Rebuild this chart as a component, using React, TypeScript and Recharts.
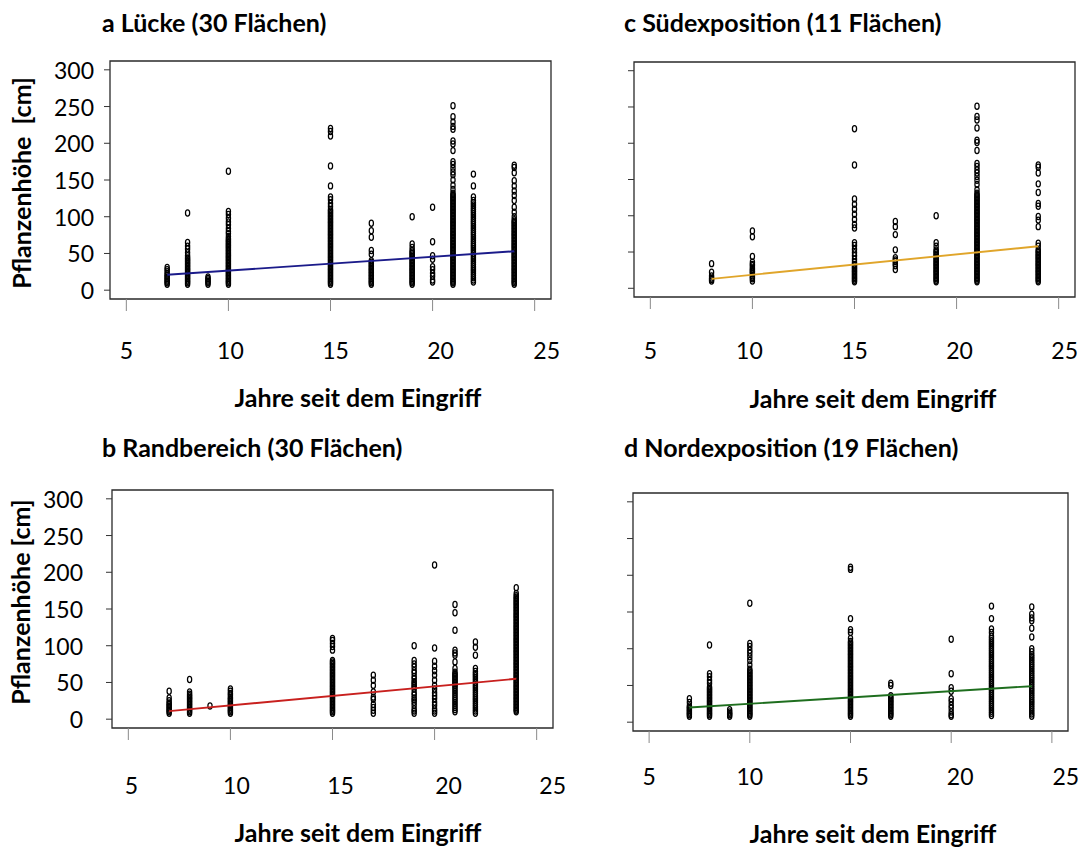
import React from "react";
import { ReferenceArea, Scatter, ScatterChart, XAxis, YAxis } from "recharts";

const xTicks = [5, 10, 15, 20, 25];
const yTicks = [0, 50, 100, 150, 200, 250, 300];

// a Lücke
const luckeYears = [7, 8, 9, 10, 15, 17, 19, 20, 21, 22, 24];
const luckeHeights = [
  [8, 10, 12, 14, 16, 18, 20, 22, 25, 28, 31],
  [8, 10, 12, 14, 16, 18, 20, 22, 24, 26, 28, 30, 32, 34, 36, 38, 40, 42, 44, 47, 51, 56, 60, 65, 105],
  [8, 10, 12, 14, 16, 18],
  [8, 10, 12, 14, 16, 18, 20, 22, 24, 26, 28, 30, 32, 34, 36, 38, 40, 42, 44, 46, 48, 50, 52, 54, 56, 58, 60, 62, 64, 66, 68, 70, 73, 77, 80, 84, 89, 93, 98, 103, 107, 162],
  [8, 10, 12, 14, 16, 18, 20, 22, 24, 26, 28, 30, 32, 34, 36, 38, 40, 42, 44, 46, 48, 50, 52, 54, 56, 58, 60, 62, 64, 66, 68, 70, 72, 74, 76, 78, 80, 82, 84, 86, 88, 90, 92, 94, 96, 98, 100, 102, 104, 106, 108, 110, 114, 118, 123, 127, 142, 169, 210, 216, 220],
  [8, 10, 12, 14, 16, 18, 20, 22, 24, 26, 28, 30, 32, 34, 36, 38, 40, 49, 54, 72, 81, 91],
  [8, 10, 12, 14, 16, 18, 20, 22, 24, 26, 28, 30, 32, 34, 36, 38, 40, 42, 44, 46, 48, 50, 52, 54, 58, 63, 100],
  [11, 14, 19, 23, 28, 32, 42, 47, 66, 113],
  [8, 10, 12, 14, 16, 18, 20, 22, 24, 26, 28, 30, 32, 34, 36, 38, 40, 42, 44, 46, 48, 50, 52, 54, 56, 58, 60, 62, 64, 66, 68, 70, 72, 74, 76, 78, 80, 82, 84, 86, 88, 90, 92, 94, 96, 98, 100, 102, 104, 106, 108, 110, 112, 114, 116, 118, 120, 122, 124, 126, 128, 130, 132, 137, 143, 150, 157, 161, 166, 171, 175, 190, 199, 203, 219, 223, 229, 236, 251],
  [11, 14, 17, 20, 23, 26, 29, 32, 35, 38, 41, 44, 47, 50, 53, 56, 59, 62, 65, 68, 71, 74, 77, 80, 83, 86, 89, 92, 95, 98, 101, 104, 107, 110, 113, 116, 119, 122, 127, 142, 158],
  [8, 10, 12, 14, 16, 18, 20, 22, 24, 26, 28, 30, 32, 34, 36, 38, 40, 42, 44, 46, 48, 50, 52, 54, 56, 58, 60, 62, 64, 66, 68, 70, 72, 74, 76, 78, 80, 82, 84, 86, 88, 90, 92, 94, 96, 100, 106, 113, 122, 129, 135, 142, 149, 160, 167, 170],
];
const luckeFitYears = [7, 24];
const luckeFitHeights = [21, 53];

// b Randbereich
const randYears = [7, 8, 9, 10, 15, 17, 19, 20, 21, 22, 24];
const randHeights = [
  [8, 10, 12, 14, 16, 18, 20, 22, 25, 29, 38],
  [8, 10, 12, 14, 16, 18, 20, 22, 24, 26, 28, 30, 32, 34, 37, 54],
  [18],
  [8, 10, 12, 14, 16, 18, 20, 22, 24, 26, 28, 30, 33, 35, 38, 41],
  [8, 10, 12, 14, 16, 18, 20, 22, 24, 26, 28, 30, 32, 34, 36, 38, 40, 42, 44, 46, 48, 50, 52, 54, 56, 58, 60, 62, 64, 66, 68, 70, 72, 74, 76, 78, 80, 94, 99, 103, 107, 110],
  [8, 12, 16, 20, 27, 30, 37, 46, 53, 60],
  [8, 11, 14, 19, 23, 26, 29, 33, 36, 41, 44, 46, 49, 51, 55, 58, 63, 66, 71, 75, 80, 100],
  [8, 11, 14, 19, 23, 28, 32, 36, 41, 46, 53, 60, 66, 72, 79, 97, 210],
  [10, 13, 16, 19, 22, 25, 28, 31, 34, 37, 40, 43, 46, 48, 50, 52, 54, 56, 58, 60, 62, 64, 69, 78, 87, 90, 94, 121, 145, 156],
  [8, 11, 14, 17, 20, 23, 26, 29, 32, 35, 38, 41, 44, 47, 50, 53, 56, 59, 62, 65, 69, 87, 98, 105],
  [10, 12, 14, 16, 18, 20, 22, 24, 26, 28, 30, 32, 34, 36, 38, 40, 42, 44, 46, 48, 50, 52, 54, 56, 58, 60, 62, 64, 66, 68, 70, 72, 74, 76, 78, 80, 82, 84, 86, 88, 90, 92, 94, 96, 98, 100, 102, 104, 106, 108, 110, 112, 114, 116, 118, 120, 122, 124, 126, 128, 130, 132, 134, 136, 138, 140, 142, 144, 146, 148, 150, 152, 154, 156, 158, 160, 162, 164, 166, 168, 171, 179],
];
const randFitYears = [7, 24];
const randFitHeights = [11, 55];

// c Südexposition
const suedYears = [8, 10, 15, 17, 19, 21, 24];
const suedHeights = [
  [10, 12, 14, 17, 22, 34],
  [10, 13, 15, 17, 20, 22, 24, 26, 28, 31, 33, 36, 44, 71, 79],
  [9, 11, 13, 15, 17, 19, 21, 23, 25, 27, 29, 31, 33, 36, 40, 45, 49, 54, 59, 63, 83, 88, 95, 102, 109, 116, 123, 170, 220],
  [26, 31, 34, 37, 39, 42, 53, 74, 85, 92],
  [9, 11, 13, 15, 17, 19, 21, 23, 25, 27, 29, 31, 33, 35, 37, 39, 41, 43, 45, 47, 49, 51, 53, 58, 63, 100],
  [9, 11, 13, 15, 17, 19, 21, 23, 25, 27, 29, 31, 33, 35, 37, 39, 41, 43, 45, 47, 49, 51, 53, 55, 57, 59, 61, 63, 65, 67, 69, 71, 73, 75, 77, 79, 81, 83, 85, 87, 89, 91, 93, 95, 97, 99, 101, 103, 105, 107, 109, 111, 113, 115, 117, 119, 121, 123, 125, 127, 129, 131, 136, 143, 149, 154, 159, 163, 168, 172, 190, 201, 204, 221, 232, 237, 251],
  [9, 11, 13, 15, 17, 19, 21, 23, 25, 27, 29, 31, 33, 35, 37, 39, 41, 43, 45, 47, 49, 51, 53, 58, 62, 85, 94, 99, 113, 117, 132, 144, 159, 167, 170],
];
const suedFitYears = [8, 24];
const suedFitHeights = [13, 58];

// d Nordexposition
const nordYears = [7, 8, 9, 10, 15, 17, 20, 22, 24];
const nordHeights = [
  [8, 10, 12, 14, 16, 18, 20, 22, 27, 32],
  [8, 10, 12, 14, 16, 18, 20, 22, 24, 26, 28, 30, 32, 34, 36, 38, 40, 42, 44, 46, 48, 53, 57, 62, 66, 105],
  [8, 10, 12, 14, 17],
  [8, 10, 12, 14, 16, 18, 20, 22, 24, 26, 28, 30, 32, 34, 36, 38, 40, 42, 44, 46, 48, 50, 52, 54, 56, 58, 60, 62, 64, 66, 68, 70, 72, 78, 84, 89, 94, 98, 103, 107, 162],
  [8, 10, 12, 14, 16, 18, 20, 22, 24, 26, 28, 30, 32, 34, 36, 38, 40, 42, 44, 46, 48, 50, 52, 54, 56, 58, 60, 62, 64, 66, 68, 70, 72, 74, 76, 78, 80, 82, 84, 86, 88, 90, 92, 94, 96, 98, 100, 102, 104, 106, 108, 110, 114, 122, 126, 141, 208, 211],
  [8, 10, 12, 14, 16, 18, 20, 22, 24, 26, 28, 30, 32, 34, 36, 50, 53],
  [8, 10, 14, 19, 23, 28, 32, 42, 47, 66, 113],
  [9, 12, 15, 18, 21, 24, 27, 30, 33, 36, 39, 42, 45, 48, 51, 54, 57, 60, 63, 66, 69, 72, 75, 78, 81, 84, 87, 90, 93, 96, 99, 102, 105, 108, 111, 114, 117, 122, 127, 141, 158],
  [8, 11, 14, 17, 20, 23, 26, 29, 32, 35, 38, 41, 44, 47, 50, 53, 56, 59, 62, 65, 68, 71, 74, 77, 80, 83, 86, 89, 92, 96, 100, 116, 128, 138, 142, 147, 157],
];
const nordFitYears = [7, 24];
const nordFitHeights = [20, 49];

const FONT = "Lato, 'Open Sans', sans-serif";
const X_DOMAIN = [4.2, 25.8];
const Y_DOMAIN = [-12, 312];

type Pt = { x: number; y: number };

function toPoints(years: number[], heights: number[][]): Pt[] {
  return years.flatMap((yr, i) => heights[i].map((h) => ({ x: yr, y: h })));
}

function toFit(years: number[], heights: number[]): Pt[] {
  return years.map((yr, i) => ({ x: yr, y: heights[i] }));
}

const Ring = (p: any) => (
  <ellipse cx={p.cx} cy={p.cy} rx={2.1} ry={3.1} fill="none" stroke="#000" strokeWidth={1.25} />
);

const NoDot = () => <g />;

const L = 75;
const T = 10;
const R = 30;
const B = 75;

function Panel({
  box,
  points,
  fit,
  color,
  yLabels,
  yLabelGap,
  xLabelGap,
  xLabelShift,
}: {
  box: { x: number; y: number; w: number; h: number };
  points: Pt[];
  fit: Pt[];
  color: string;
  yLabels: boolean;
  yLabelGap: number;
  xLabelGap: number;
  xLabelShift: number[];
}) {
  const yTick = (p: any) =>
    yLabels ? (
      <text x={p.x} y={p.y} textAnchor="end" dominantBaseline="central" fontSize={23} fontFamily={FONT} fill="#000">
        {p.payload.value}
      </text>
    ) : (
      <g />
    );
  const xTick = (p: any) => (
    <text
      x={p.x + (xLabelShift[p.index] ?? 0)}
      y={p.y}
      textAnchor="middle"
      dominantBaseline="central"
      fontSize={23}
      fontFamily={FONT}
      fill="#000"
    >
      {p.payload.value}
    </text>
  );
  return (
    <div style={{ position: "absolute", left: box.x - L, top: box.y - T }}>
      <ScatterChart width={L + box.w + R} height={T + box.h + B} margin={{ top: T, right: R, bottom: 0, left: 0 }}>
        <XAxis
          type="number"
          dataKey="x"
          domain={X_DOMAIN}
          ticks={xTicks}
          interval={0}
          allowDataOverflow
          height={B}
          axisLine={false}
          tickSize={12}
          tickMargin={xLabelGap}
          tickLine={{ stroke: "#8a8a8a", strokeWidth: 1 }}
          tick={xTick}
        />
        <YAxis
          type="number"
          dataKey="y"
          domain={Y_DOMAIN}
          ticks={yTicks}
          interval={0}
          allowDataOverflow
          width={L}
          axisLine={false}
          tickSize={6}
          tickMargin={yLabelGap}
          tickLine={{ stroke: "#333", strokeWidth: 1 }}
          tick={yTick}
        />
        <ReferenceArea
          x1={X_DOMAIN[0]}
          x2={X_DOMAIN[1]}
          y1={Y_DOMAIN[0]}
          y2={Y_DOMAIN[1]}
          fill="none"
          stroke="#2a2a2a"
          strokeWidth={1.3}
          fillOpacity={0}
        />
        <Scatter data={points} shape={Ring} isAnimationActive={false} />
        <Scatter
          data={fit}
          shape={NoDot}
          line={{ stroke: color, strokeWidth: 1.9 }}
          lineType="joint"
          isAnimationActive={false}
        />
      </ScatterChart>
    </div>
  );
}

const titleStyle = { fontFamily: FONT, fontWeight: 700, fontSize: 25, fill: "#000" } as const;

export default function App() {
  return (
    <div style={{ position: "absolute", left: 0, top: 0, width: 1080, height: 847, background: "#fff", overflow: "hidden" }}>
      <Panel
        box={{ x: 110, y: 61, w: 441, h: 238 }}
        points={toPoints(luckeYears, luckeHeights)}
        fit={toFit(luckeFitYears, luckeFitHeights)}
        color="#1b1b8a"
        yLabels
        yLabelGap={10}
        xLabelGap={39}
        xLabelShift={[0, 2, 5, 8, 12]}
      />
      <Panel
        box={{ x: 634, y: 62, w: 441, h: 235 }}
        points={toPoints(suedYears, suedHeights)}
        fit={toFit(suedFitYears, suedFitHeights)}
        color="#e0a52a"
        yLabels={false}
        yLabelGap={10}
        xLabelGap={41}
        xLabelShift={[0, -3, 0, 3, 6]}
      />
      <Panel
        box={{ x: 112, y: 490, w: 441, h: 238 }}
        points={toPoints(randYears, randHeights)}
        fit={toFit(randFitYears, randFitHeights)}
        color="#c8201e"
        yLabels
        yLabelGap={23}
        xLabelGap={45}
        xLabelShift={[3, 6, 8, 14, 16]}
      />
      <Panel
        box={{ x: 633, y: 493, w: 435, h: 238 }}
        points={toPoints(nordYears, nordHeights)}
        fit={toFit(nordFitYears, nordFitHeights)}
        color="#1e6e1e"
        yLabels={false}
        yLabelGap={10}
        xLabelGap={33}
        xLabelShift={[0, 0, 5, 9, 14]}
      />
      <svg
        width={1080}
        height={847}
        style={{ position: "absolute", left: 0, top: 0, pointerEvents: "none" }}
      >
        <text x={102} y={22} dominantBaseline="central" {...titleStyle}>a Lücke (30 Flächen)</text>
        <text x={624} y={22} dominantBaseline="central" {...titleStyle}>c Südexposition (11 Flächen)</text>
        <text x={102} y={447} dominantBaseline="central" {...titleStyle}>b Randbereich (30 Flächen)</text>
        <text x={624} y={447} dominantBaseline="central" {...titleStyle}>d Nordexposition (19 Flächen)</text>

        <text x={358} y={397} textAnchor="middle" dominantBaseline="central" {...titleStyle}>Jahre seit dem Eingriff</text>
        <text x={873} y={398} textAnchor="middle" dominantBaseline="central" {...titleStyle}>Jahre seit dem Eingriff</text>
        <text x={358} y={832} textAnchor="middle" dominantBaseline="central" {...titleStyle}>Jahre seit dem Eingriff</text>
        <text x={873} y={833} textAnchor="middle" dominantBaseline="central" {...titleStyle}>Jahre seit dem Eingriff</text>

        <text
          transform="translate(21 183) rotate(-90)"
          textAnchor="middle"
          dominantBaseline="central"
          style={{ whiteSpace: "pre" }}
          {...titleStyle}
        >
          {"Pflanzenhöhe  [cm]"}
        </text>
        <text
          transform="translate(20 602) rotate(-90)"
          textAnchor="middle"
          dominantBaseline="central"
          {...titleStyle}
        >
          Pflanzenhöhe [cm]
        </text>
      </svg>
    </div>
  );
}
